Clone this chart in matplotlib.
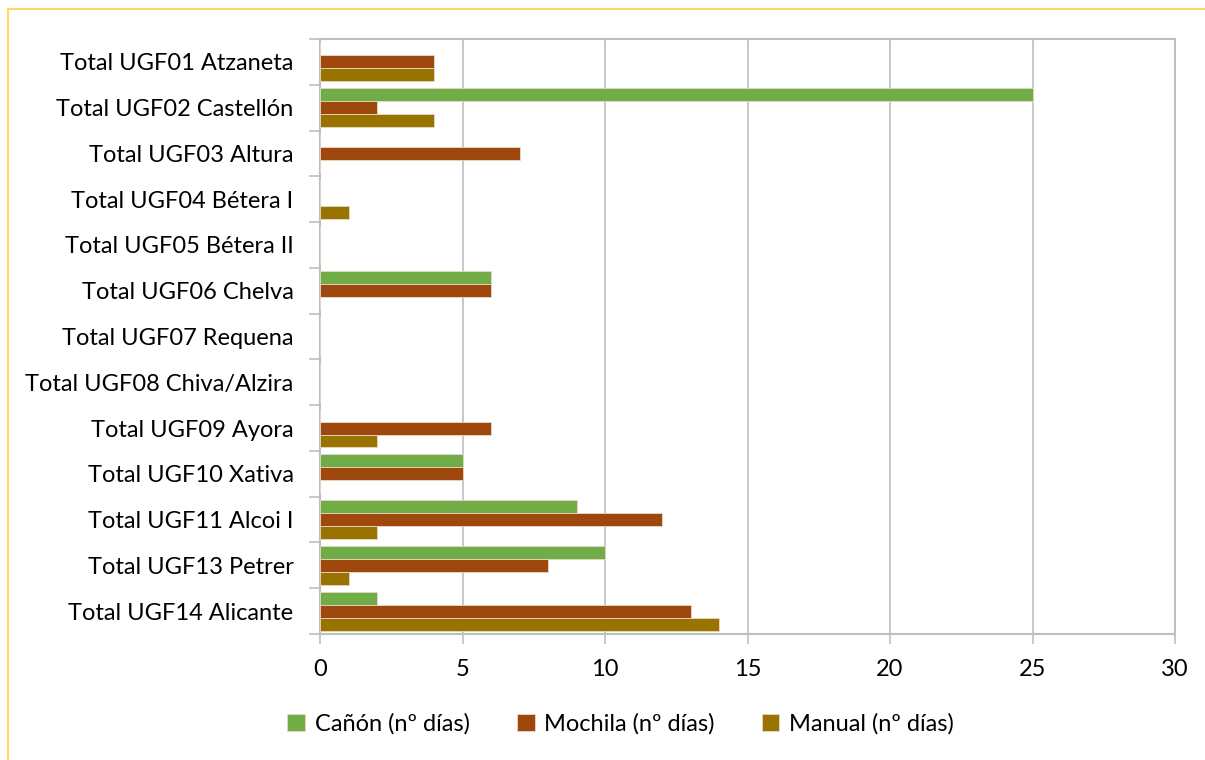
import numpy as np
import matplotlib.pyplot as plt
from matplotlib.patches import Rectangle

categories = ["Total UGF01 Atzaneta", "Total UGF02 Castellón", "Total UGF03 Altura",
              "Total UGF04 Bétera I", "Total UGF05 Bétera II", "Total UGF06 Chelva",
              "Total UGF07 Requena", "Total UGF08 Chiva/Alzira", "Total UGF09 Ayora",
              "Total UGF10 Xativa", "Total UGF11 Alcoi I", "Total UGF13 Petrer",
              "Total UGF14 Alicante"]
canon = [0, 25, 0, 0, 0, 6, 0, 0, 0, 5, 9, 10, 2]
mochila = [4, 2, 7, 0, 0, 6, 0, 0, 6, 5, 12, 8, 13]
manual = [4, 4, 0, 1, 0, 0, 0, 0, 2, 0, 2, 1, 14]

series = [("Cañón (nº días)", canon, "#70AD47"),
          ("Mochila (nº días)", mochila, "#9E480E"),
          ("Manual (nº días)", manual, "#997300")]

plt.rcParams['font.family'] = ['Lato', 'DejaVu Sans']

fig = plt.figure(figsize=(12.05, 7.6), dpi=100)
ax = fig.add_axes([320 / 1205, 1 - 634 / 760, 855 / 1205, 595 / 760])

n = len(categories)
y = np.arange(n)
h = 0.283
for i, (name, vals, col) in enumerate(series):
    ax.barh(y + (i - 1) * h, vals, height=h, color=col, edgecolor="#E8D9C8",
            linewidth=0.6, label=name, zorder=3)

fs = 17
ax.set_ylim(n - 0.5, -0.5)
ax.set_xlim(0, 30)
ax.set_xticks(range(0, 31, 5))
ax.set_yticks(y)
ax.set_yticklabels(categories)
ax.set_yticks(np.arange(-0.5, n, 1), minor=True)
ax.tick_params(axis="y", which="major", length=0, pad=19, labelsize=fs)
ax.tick_params(axis="y", which="minor", length=8, color="#BFBFBF", width=1.2)
ax.tick_params(axis="x", length=7, color="#BFBFBF", width=1.2, pad=11, labelsize=fs)
ax.grid(axis="x", color="#BFBFBF", linewidth=1.2, zorder=0)
for s in ax.spines.values():
    s.set_color("#BFBFBF")
    s.set_linewidth(1.5)

fig.legend(loc="center", bbox_to_anchor=(0.515, 1 - 724 / 760), ncol=3, frameon=False,
           fontsize=fs, handlelength=0.75, handleheight=0.75, columnspacing=2.0,
           handletextpad=0.4)

fig.patches.append(Rectangle((8 / 1205, -0.1), 1.2, 1 - 9 / 760 + 0.1,
                             transform=fig.transFigure, fill=False,
                             edgecolor="#FFD966", linewidth=1.5))

fig.savefig("out.png", dpi=100)
